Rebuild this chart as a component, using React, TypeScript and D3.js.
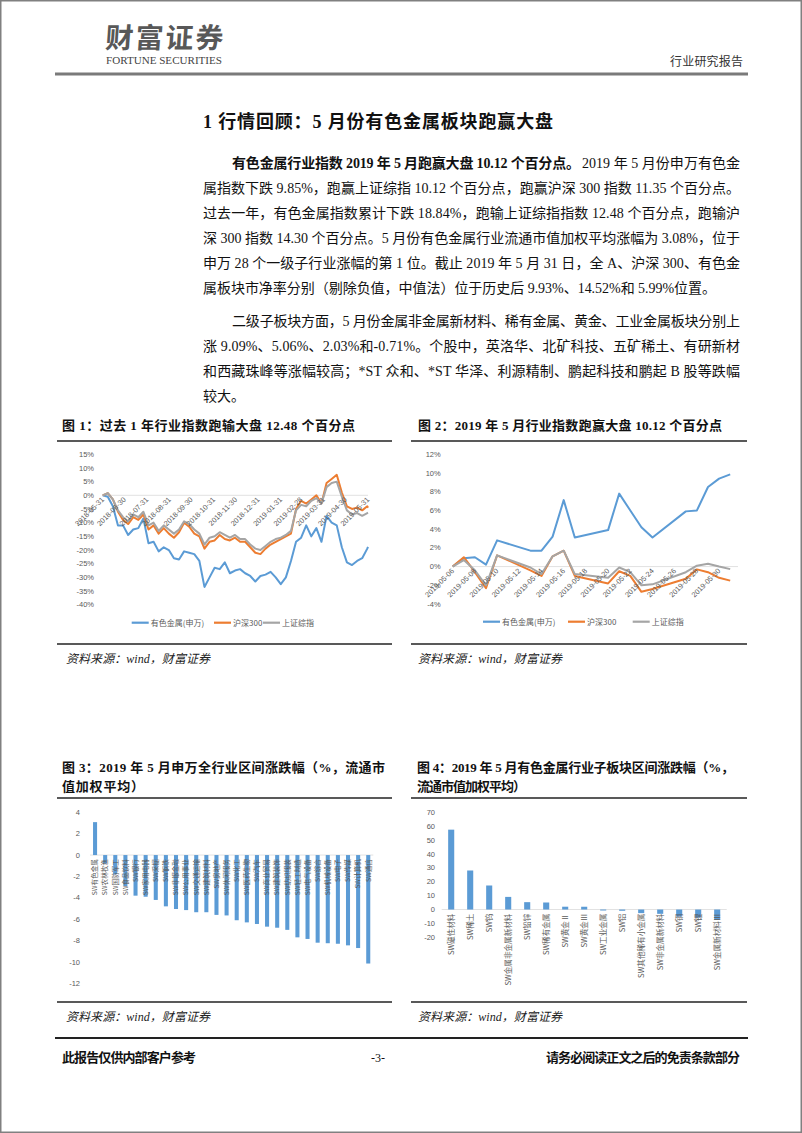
import React from 'react';
import * as d3 from 'd3';

const SERIF = "'Liberation Serif','Noto Sans CJK SC',serif";
const SANS = "'Liberation Sans','Noto Sans CJK SC',sans-serif";
const CJK = "'Noto Sans CJK SC',sans-serif";

const BLUE = '#5B9BD5';
const ORANGE = '#ED7D31';
const GRAY = '#A5A5A5';
const AXIS = '#D9D9D9';
const LABEL = '#595959';

// 图1：过去一年（周度取样）
const yearDates = [
  '2018-05-31', '2018-06-07', '2018-06-14', '2018-06-21', '2018-06-28', '2018-07-05', '2018-07-12',
  '2018-07-19', '2018-07-26', '2018-08-02', '2018-08-09', '2018-08-16', '2018-08-23', '2018-08-30',
  '2018-09-06', '2018-09-13', '2018-09-20', '2018-09-27', '2018-10-04', '2018-10-11', '2018-10-18',
  '2018-10-25', '2018-11-01', '2018-11-08', '2018-11-15', '2018-11-22', '2018-11-29', '2018-12-06',
  '2018-12-13', '2018-12-20', '2018-12-27', '2019-01-03', '2019-01-10', '2019-01-17', '2019-01-24',
  '2019-01-31', '2019-02-07', '2019-02-14', '2019-02-21', '2019-02-28', '2019-03-07', '2019-03-14',
  '2019-03-21', '2019-03-28', '2019-04-04', '2019-04-11', '2019-04-18', '2019-04-25', '2019-05-02',
  '2019-05-09', '2019-05-16', '2019-05-23', '2019-05-30', '2019-05-31',
];
const yearNonferrous = [
  0, -0.5, -4, -11, -11, -14.5, -12.5, -12, -8.5, -17.5, -17, -20.5, -19, -20, -23, -23.5, -20.5, -21,
  -21.5, -24, -33.5, -30, -26.5, -27, -24.5, -28.5, -27.5, -27, -28.5, -29.5, -31.5, -29.5, -29, -28,
  -30, -32.5, -30, -24, -17, -15.5, -11, -15, -12, -17, -7.5, -10, -11, -19, -24.5, -25.5, -24, -23,
  -19.5, -18.84,
];
const yearHs300 = [
  0, 0.8, -1.5, -6, -9, -10.5, -8, -9, -7, -12.5, -11, -14, -12, -14, -15.5, -13.5, -10, -11.5, -14,
  -15, -19.5, -17, -16.5, -14.5, -16, -16.5, -15.5, -17, -17, -19, -21, -21.5, -19.5, -18, -17, -16,
  -15, -14, -5, -2, -3, -1.5, 0, -3, 4.5, 6, 7.5, 1, -4, -5, -4.5, -5.5, -4, -4.54,
];
const yearShanghai = [
  0, 0.8, -1.5, -5.5, -8, -9.5, -7, -8, -6, -11, -10, -13, -11, -12.5, -14, -12.5, -9.5, -10.5, -12.5,
  -14, -18, -15.5, -15, -13.5, -14.5, -15.5, -14.5, -16, -16, -18, -19.5, -20, -18.5, -17, -16, -15.5,
  -14.5, -13, -5.5, -3.5, -4, -2, -1, -3, 3, 4.5, 5, -0.5, -5.5, -7, -6.5, -7.5, -6.5, -6.36,
];
const yearTicks = [
  '2018-05-31', '2018-06-30', '2018-07-31', '2018-08-31', '2018-09-30', '2018-10-31', '2018-11-30',
  '2018-12-31', '2019-01-31', '2019-02-28', '2019-03-31', '2019-04-30', '2019-05-31',
];

// 图2：2019年5月
const mayDates = [
  '2019-05-06', '2019-05-07', '2019-05-08', '2019-05-09', '2019-05-10', '2019-05-13', '2019-05-14',
  '2019-05-15', '2019-05-16', '2019-05-17', '2019-05-20', '2019-05-21', '2019-05-22', '2019-05-23',
  '2019-05-24', '2019-05-27', '2019-05-28', '2019-05-29', '2019-05-30', '2019-05-31',
];
const mayNonferrous = [0, 0.9, 1.0, 0.2, 2.8, 1.7, 1.7, 3.2, 7.1, 3.1, 3.9, 7.8, 6.0, 4.2, 3.1, 5.9, 6.0, 8.5, 9.4, 9.85];
const mayHs300 = [0, 1.0, -0.6, -2.3, 1.2, -0.4, -1.0, 1.1, 1.7, -1.0, -1.8, -0.5, -1.0, -2.7, -2.4, -1.3, -0.3, -0.6, -1.2, -1.5];
const mayShanghai = [0, 0.7, -0.4, -2.0, 1.2, -0.1, -0.8, 1.1, 1.7, -0.8, -1.2, -0.1, -0.6, -2.0, -1.9, -0.6, 0.1, 0.3, 0.0, -0.27];
const mayTicks = [
  '2019-05-06', '2019-05-08', '2019-05-10', '2019-05-12', '2019-05-14', '2019-05-16', '2019-05-18',
  '2019-05-20', '2019-05-22', '2019-05-24', '2019-05-26', '2019-05-28', '2019-05-30',
];

const seriesNames = ['有色金属(申万)', '沪深300', '上证综指'];

// 图3：申万一级行业
const industryNames = [
  'SW有色金属', 'SW农林牧渔', 'SW国防军工', 'SW食品饮料', 'SW银行', 'SW家用电器', 'SW采掘',
  'SW钢铁', 'SW非银金融', 'SW公用事业', 'SW交通运输', 'SW建筑材料', 'SW房地产', 'SW休闲服务',
  'SW化工', 'SW医药生物', 'SW汽车', 'SW商业贸易', 'SW建筑装饰', 'SW纺织服装', 'SW轻工制造',
  'SW电气设备', 'SW综合', 'SW机械设备', 'SW电子', 'SW传媒', 'SW计算机', 'SW通信',
];
const industryChange = [
  3.08, -0.8, -1.8, -2.9, -3.8, -3.9, -4.2, -4.8, -5.05, -5.15, -5.35, -5.35, -5.6, -5.65, -6.1, -6.3,
  -6.45, -6.7, -6.8, -7.0, -7.7, -7.85, -8.2, -8.25, -8.3, -8.45, -8.7, -10.15,
];

// 图4：有色金属子板块
const subNames = [
  'SW磁性材料', 'SW稀土', 'SW钨', 'SW金属非金属新材料', 'SW铅锌', 'SW稀有金属', 'SW黄金Ⅱ', 'SW黄金Ⅲ',
  'SW工业金属', 'SW铝', 'SW其他稀有小金属', 'SW非金属新材料', 'SW铜', 'SW锂', 'SW金属新材料Ⅲ',
];
const subChange = [57.5, 28.1, 17.3, 9.09, 5.3, 5.06, 2.03, 2.0, -0.71, -0.9, -2.6, -3.1, -5.0, -5.8, -7.4];

const parse = (s: string) => d3.timeParse('%Y-%m-%d')(s) as Date;
const colors = [BLUE, ORANGE, GRAY];

interface LineProps {
  dates: string[];
  series: number[][];
  ticks: string[];
  xDomain: [string, string];
  xRange: [number, number];
  axisEnd: number;
  yDomain: [number, number];
  yRange: [number, number];
  yStep: number;
  labelX: number;
  legendY: number;
  legendX: number[];
}

function LineChart(p: LineProps) {
  const x = d3.scaleTime().domain(p.xDomain.map(parse)).range(p.xRange);
  const y = d3.scaleLinear().domain(p.yDomain).range(p.yRange);
  const yTicks = d3.range(p.yDomain[0], p.yDomain[1] + 0.001, p.yStep);
  const y0 = y(0);
  const line = d3
    .line<number>()
    .x((_, i) => x(parse(p.dates[i])))
    .y((d) => y(d));
  return (
    <g>
      {yTicks.map((t) => (
        <text key={t} x={p.labelX} y={y(t)} dy="0.35em" textAnchor="end" fontSize={7.5} fill={LABEL} fontFamily={SANS}>
          {`${t}%`}
        </text>
      ))}
      <line x1={p.xRange[0]} x2={p.axisEnd} y1={y0} y2={y0} stroke={AXIS} strokeWidth={0.8} />
      {p.series.map((s, i) => (
        <path key={i} d={line(s) || ''} fill="none" stroke={colors[i]} strokeWidth={2} strokeLinejoin="round" />
      ))}
      {p.ticks.map((t) => (
        <text
          key={t}
          transform={`translate(${x(parse(t))},${y0 + 3}) rotate(-45)`}
          textAnchor="end"
          dy="0.35em"
          fontSize={7.3}
          fill={LABEL}
          fontFamily={SANS}
        >
          {t}
        </text>
      ))}
      {seriesNames.map((n, i) => (
        <g key={n}>
          <line x1={p.legendX[i]} x2={p.legendX[i] + 17} y1={p.legendY} y2={p.legendY} stroke={colors[i]} strokeWidth={2.2} />
          <text x={p.legendX[i] + 19} y={p.legendY} dy="0.35em" fontSize={8} fill={LABEL} fontFamily={CJK}>
            {n}
          </text>
        </g>
      ))}
    </g>
  );
}

interface BarProps {
  names: string[];
  values: number[];
  xRange: [number, number];
  padding: number;
  yDomain: [number, number];
  yRange: [number, number];
  yStep: number;
  labelX: number;
  catSize: number;
}

function BarChart(p: BarProps) {
  const x = d3.scaleBand<string>().domain(p.names).range(p.xRange).paddingInner(p.padding).paddingOuter(p.padding / 2);
  const y = d3.scaleLinear().domain(p.yDomain).range(p.yRange);
  const yTicks = d3.range(p.yDomain[0], p.yDomain[1] + 0.001, p.yStep);
  const y0 = y(0);
  return (
    <g>
      {yTicks.map((t) => (
        <text key={t} x={p.labelX} y={y(t)} dy="0.35em" textAnchor="end" fontSize={7.5} fill={LABEL} fontFamily={SANS}>
          {t}
        </text>
      ))}
      <line x1={p.xRange[0]} x2={p.xRange[1]} y1={y0} y2={y0} stroke={AXIS} strokeWidth={0.8} />
      {p.values.map((v, i) => (
        <rect
          key={p.names[i]}
          x={x(p.names[i])}
          width={x.bandwidth()}
          y={Math.min(y(v), y0)}
          height={Math.abs(y(v) - y0)}
          fill={BLUE}
        />
      ))}
      {p.names.map((n) => (
        <text
          key={n}
          transform={`translate(${(x(n) as number) + x.bandwidth() / 2},${y0 + 4}) rotate(-90)`}
          textAnchor="end"
          dy="0.35em"
          fontSize={p.catSize}
          fill={LABEL}
          fontFamily={CJK}
        >
          {n}
        </text>
      ))}
    </g>
  );
}

function Body({ x, y, w, children, bold }: { x: number; y: number; w?: number; children: string; bold?: boolean }) {
  return (
    <text
      x={x}
      y={y}
      fontSize={14}
      fontFamily={SERIF}
      fontWeight={bold ? 'bold' : 'normal'}
      fill="#111"
      textLength={w}
      lengthAdjust={w ? 'spacing' : undefined}
    >
      {children}
    </text>
  );
}

function Caption({ x, y, w, children }: { x: number; y: number; w: number; children: string }) {
  return (
    <text x={x} y={y} fontSize={13} fontWeight="bold" fontFamily={SERIF} fill="#111" textLength={w} lengthAdjust="spacing">
      {children}
    </text>
  );
}

function Source({ x, y }: { x: number; y: number }) {
  return (
    <text x={x} y={y} fontSize={12} fontStyle="italic" fontFamily={SERIF} fill="#222" textLength={144} lengthAdjust="spacing">
      资料来源：wind，财富证券
    </text>
  );
}

export default function App() {
  const L = 203;
  const R = 740;
  const I = 232;
  return (
    <svg width={802} height={1133} style={{ position: 'absolute', left: 0, top: 0, background: '#fff' }}>
      <rect x={0.75} y={0.75} width={800.5} height={1131.5} fill="#fff" stroke="#808080" strokeWidth={1.5} />

      {/* 页眉 */}
      <text x={105} y={48} fontSize={28} fontWeight="bold" fontFamily={CJK} fill="#585858" textLength={118} lengthAdjust="spacing" transform="skewX(-4) translate(3,0)">
        财富证券
      </text>
      <text x={106} y={64} fontSize={10.5} fontFamily={SERIF} fill="#444" textLength={116} lengthAdjust="spacingAndGlyphs">
        FORTUNE SECURITIES
      </text>
      <text x={670} y={66} fontSize={12} fontFamily={CJK} fill="#333" textLength={73} lengthAdjust="spacing">
        行业研究报告
      </text>
      <line x1={55} x2={748} y1={74} y2={74} stroke="#7a7a7a" strokeWidth={3} />

      {/* 标题与正文 */}
      <text x={L} y={128} fontSize={18} fontWeight="bold" fontFamily={SERIF} fill="#111" textLength={350} lengthAdjust="spacing">
        1 行情回顾：5 月份有色金属板块跑赢大盘
      </text>
      <Body x={I} y={168} w={348} bold>
        有色金属行业指数 2019 年 5 月跑赢大盘 10.12 个百分点。
      </Body>
      <Body x={582} y={168} w={R - 582}>
        2019 年 5 月份申万有色金
      </Body>
      <Body x={L} y={193} w={R - L}>
        属指数下跌 9.85%，跑赢上证综指 10.12 个百分点，跑赢沪深 300 指数 11.35 个百分点。
      </Body>
      <Body x={L} y={218} w={R - L}>
        过去一年，有色金属指数累计下跌 18.84%，跑输上证综指指数 12.48 个百分点，跑输沪
      </Body>
      <Body x={L} y={243} w={R - L}>
        深 300 指数 14.30 个百分点。5 月份有色金属行业流通市值加权平均涨幅为 3.08%，位于
      </Body>
      <Body x={L} y={268} w={R - L}>
        申万 28 个一级子行业涨幅的第 1 位。截止 2019 年 5 月 31 日，全 A、沪深 300、有色金
      </Body>
      <Body x={L} y={293} w={513}>
        属板块市净率分别（剔除负值，中值法）位于历史后 9.93%、14.52%和 5.99%位置。
      </Body>
      <Body x={I} y={326} w={R - I}>
        二级子板块方面，5 月份金属非金属新材料、稀有金属、黄金、工业金属板块分别上
      </Body>
      <Body x={L} y={351} w={R - L}>
        涨 9.09%、5.06%、2.03%和-0.71%。个股中，英洛华、北矿科技、五矿稀土、有研新材
      </Body>
      <Body x={L} y={376} w={R - L}>
        和西藏珠峰等涨幅较高；*ST 众和、*ST 华泽、利源精制、鹏起科技和鹏起 B 股等跌幅
      </Body>
      <Body x={L} y={401}>较大。</Body>

      {/* 图1、图2 */}
      <Caption x={62} y={430} w={293}>图 1：过去 1 年行业指数跑输大盘 12.48 个百分点</Caption>
      <Caption x={418} y={430} w={304}>图 2：2019 年 5 月行业指数跑赢大盘 10.12 个百分点</Caption>
      <line x1={57} x2={392} y1={441} y2={441} stroke="#222" strokeWidth={1.6} />
      <line x1={411} x2={747} y1={441} y2={441} stroke="#222" strokeWidth={1.6} />

      <LineChart
        dates={yearDates}
        series={[yearNonferrous, yearHs300, yearShanghai]}
        ticks={yearTicks}
        xDomain={['2018-05-31', '2019-05-31']}
        xRange={[102.7, 368]}
        axisEnd={368}
        yDomain={[-40, 15]}
        yRange={[604.7, 454.3]}
        yStep={5}
        labelX={94}
        legendY={622.7}
        legendX={[131.7, 214, 263]}
      />
      <LineChart
        dates={mayDates}
        series={[mayNonferrous, mayHs300, mayShanghai]}
        ticks={mayTicks}
        xDomain={['2019-05-06', '2019-05-31']}
        xRange={[452.7, 730.2]}
        axisEnd={738}
        yDomain={[-4, 12]}
        yRange={[604, 454.3]}
        yStep={2}
        labelX={440.7}
        legendY={621.7}
        legendX={[483, 568, 632.7]}
      />

      <line x1={57} x2={392} y1={644} y2={644} stroke="#222" strokeWidth={1.6} />
      <line x1={411} x2={747} y1={644} y2={644} stroke="#222" strokeWidth={1.6} />
      <Source x={66} y={663} />
      <Source x={418} y={663} />

      {/* 图3、图4 */}
      <Caption x={62} y={772} w={323}>图 3：2019 年 5 月申万全行业区间涨跌幅（%，流通市</Caption>
      <Caption x={62} y={791} w={82}>值加权平均）</Caption>
      <Caption x={417} y={772} w={317}>图 4：2019 年 5 月有色金属行业子板块区间涨跌幅（%，</Caption>
      <Caption x={417} y={791} w={109}>流通市值加权平均）</Caption>
      <line x1={57} x2={392} y1={798} y2={798} stroke="#222" strokeWidth={1.6} />
      <line x1={411} x2={747} y1={798} y2={798} stroke="#222" strokeWidth={1.6} />

      <BarChart
        names={industryNames}
        values={industryChange}
        xRange={[90, 373.3]}
        padding={0.6}
        yDomain={[-12, 4]}
        yRange={[983.3, 812.3]}
        yStep={2}
        labelX={80}
        catSize={6.6}
      />
      <BarChart
        names={subNames}
        values={subChange}
        xRange={[441.7, 726.7]}
        padding={0.68}
        yDomain={[-20, 70]}
        yRange={[937.3, 812.3]}
        yStep={10}
        labelX={435}
        catSize={7.6}
      />

      <line x1={57} x2={392} y1={1002} y2={1002} stroke="#222" strokeWidth={1.6} />
      <line x1={411} x2={747} y1={1002} y2={1002} stroke="#222" strokeWidth={1.6} />
      <Source x={66} y={1021} />
      <Source x={418} y={1021} />
      <line x1={55} x2={748} y1={1038} y2={1038} stroke="#222" strokeWidth={2.2} />

      {/* 页脚 */}
      <text x={62} y={1062} fontSize={13} fontWeight="bold" fontFamily={SERIF} fill="#111" textLength={134} lengthAdjust="spacing">
        此报告仅供内部客户参考
      </text>
      <text x={378} y={1062} fontSize={12} fontFamily={SERIF} fill="#111" textAnchor="middle">
        -3-
      </text>
      <text x={546} y={1062} fontSize={13} fontWeight="bold" fontFamily={SERIF} fill="#111" textLength={194} lengthAdjust="spacing">
        请务必阅读正文之后的免责条款部分
      </text>
    </svg>
  );
}
